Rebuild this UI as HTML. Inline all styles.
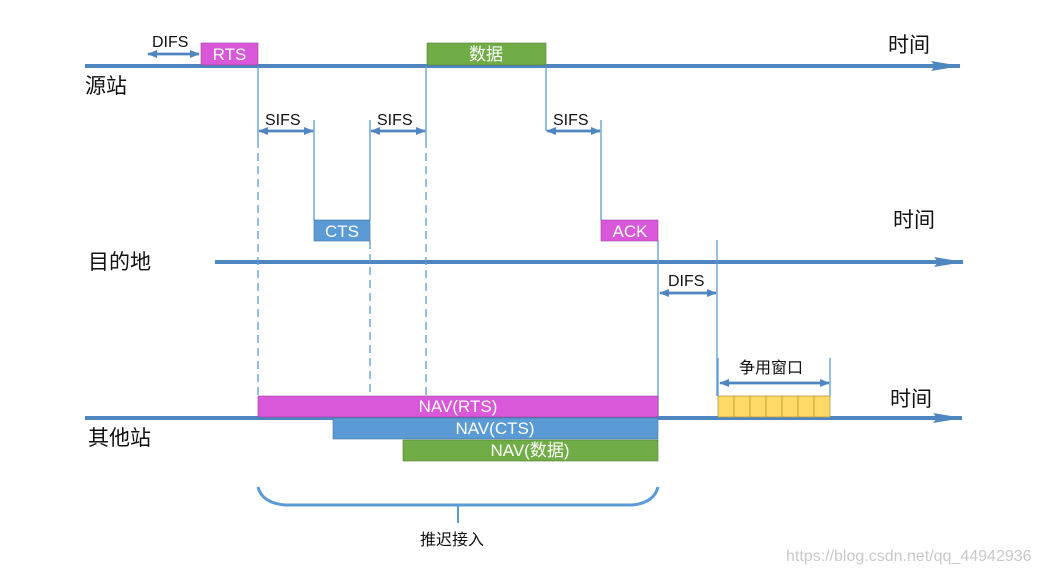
<!DOCTYPE html>
<html><head><meta charset="utf-8"><style>
html,body{margin:0;padding:0;background:#fff;}
svg{display:block;}
text{font-family:"Liberation Sans","Noto Sans CJK SC",sans-serif;}
</style></head><body>
<svg width="1043" height="574" viewBox="0 0 1043 574" xmlns="http://www.w3.org/2000/svg">
<defs>
<marker id="ah" markerWidth="10" markerHeight="8" refX="9" refY="4" orient="auto" markerUnits="userSpaceOnUse"><path d="M0,0 L10,4 L0,8 Z" fill="#4f86c0"/></marker>
<marker id="big" markerWidth="30" markerHeight="10" refX="29" refY="5" orient="auto" markerUnits="userSpaceOnUse"><path d="M0,0 L30,5 L0,10 L4,5 Z" fill="#4f86c0"/></marker>
</defs>
<rect width="1043" height="574" fill="#fff"/>
<g stroke="#4f86c0" stroke-width="4">
<line x1="85" y1="66" x2="960" y2="66" marker-end="url(#big)"/>
<line x1="215" y1="262" x2="963" y2="262" marker-end="url(#big)"/>
<line x1="85" y1="418" x2="962" y2="418" marker-end="url(#big)"/>
</g>
<g stroke="#5b9bd5" stroke-width="1.3" fill="none">
<line x1="258" y1="66" x2="258" y2="140"/>
<line x1="258" y1="140" x2="258" y2="396" stroke-dasharray="8,5"/>
<line x1="426" y1="66" x2="426" y2="140"/>
<line x1="426" y1="140" x2="426" y2="396" stroke-dasharray="8,5"/>
<line x1="546" y1="66" x2="546" y2="131"/>
<line x1="314" y1="120" x2="314" y2="220"/>
<line x1="370" y1="120" x2="370" y2="220"/>
<line x1="370" y1="241" x2="370" y2="396" stroke-dasharray="8,5"/>
<line x1="601" y1="120" x2="601" y2="220"/>
<line x1="658" y1="241" x2="658" y2="418"/>
<line x1="717" y1="240" x2="717" y2="396"/>
<line x1="830" y1="358" x2="830" y2="396"/>
<line x1="718" y1="358" x2="718" y2="396"/>
</g>
<g stroke="#4f86c0" stroke-width="2.5">
<line x1="155" y1="54" x2="199" y2="54" marker-end="url(#ah)"/><line x1="199" y1="54" x2="148" y2="54" marker-end="url(#ah)"/>
<line x1="265" y1="131" x2="313" y2="131" marker-end="url(#ah)"/><line x1="313" y1="131" x2="259" y2="131" marker-end="url(#ah)"/>
<line x1="377" y1="131" x2="425" y2="131" marker-end="url(#ah)"/><line x1="425" y1="131" x2="371" y2="131" marker-end="url(#ah)"/>
<line x1="553" y1="131" x2="600" y2="131" marker-end="url(#ah)"/><line x1="600" y1="131" x2="547" y2="131" marker-end="url(#ah)"/>
<line x1="666" y1="293" x2="716" y2="293" marker-end="url(#ah)"/><line x1="716" y1="293" x2="660" y2="293" marker-end="url(#ah)"/>
<line x1="726" y1="383" x2="829" y2="383" marker-end="url(#ah)"/><line x1="829" y1="383" x2="720" y2="383" marker-end="url(#ah)"/>
</g>
<g font-size="17" fill="#fff" text-anchor="middle">
<rect x="201" y="43" width="57" height="22" fill="#d957d9" stroke="#a040a0" stroke-width="0.6"/><text x="229.5" y="60">RTS</text>
<rect x="427" y="43" width="119" height="22" fill="#70ad47" stroke="#507e33" stroke-width="0.6"/><text x="486" y="60">数据</text>
<rect x="314" y="220" width="56" height="21" fill="#5b9bd5" stroke="#41719c" stroke-width="0.6"/><text x="342" y="237">CTS</text>
<rect x="601" y="220" width="57" height="21" fill="#d957d9" stroke="#a040a0" stroke-width="0.6"/><text x="630" y="237">ACK</text>
<rect x="258" y="396" width="400" height="21" fill="#d957d9" stroke="#a040a0" stroke-width="0.6"/><text x="458" y="412">NAV(RTS)</text>
<rect x="333" y="418" width="325" height="21" fill="#5b9bd5" stroke="#41719c" stroke-width="0.6"/><text x="495" y="434">NAV(CTS)</text>
<rect x="403" y="440" width="255" height="21" fill="#70ad47" stroke="#507e33" stroke-width="0.6"/><text x="530" y="456">NAV(数据)</text>
</g>
<g stroke="#b89a3a" stroke-width="0.8" fill="#ffd966">
<rect x="718" y="396" width="16" height="21"/><rect x="734" y="396" width="16" height="21"/><rect x="750" y="396" width="16" height="21"/><rect x="766" y="396" width="16" height="21"/><rect x="782" y="396" width="16" height="21"/><rect x="798" y="396" width="16" height="21"/><rect x="814" y="396" width="16" height="21"/>
</g>
<path d="M258,487 Q262,503 285,505 L632,505 Q654,503 658,487" stroke="#5b9bd5" stroke-width="3" fill="none"/>
<line x1="458" y1="505" x2="458" y2="523" stroke="#5b9bd5" stroke-width="2"/>
<g font-size="16" fill="#111">
<text x="152" y="47">DIFS</text>
<text x="265" y="125">SIFS</text>
<text x="377" y="125">SIFS</text>
<text x="553" y="125">SIFS</text>
<text x="668" y="286">DIFS</text>
<text x="739" y="373">争用窗口</text>
<text x="420" y="545">推迟接入</text>
</g>
<g font-size="21" fill="#111">
<text x="85" y="93">源站</text>
<text x="88" y="269">目的地</text>
<text x="88" y="445">其他站</text>
<text x="888" y="52">时间</text>
<text x="893" y="227">时间</text>
<text x="890" y="406">时间</text>
</g>
<text x="786" y="561" font-size="16" fill="#c8c8c8">https://blog.csdn.net/qq_44942936</text>
</svg>
</body></html>
